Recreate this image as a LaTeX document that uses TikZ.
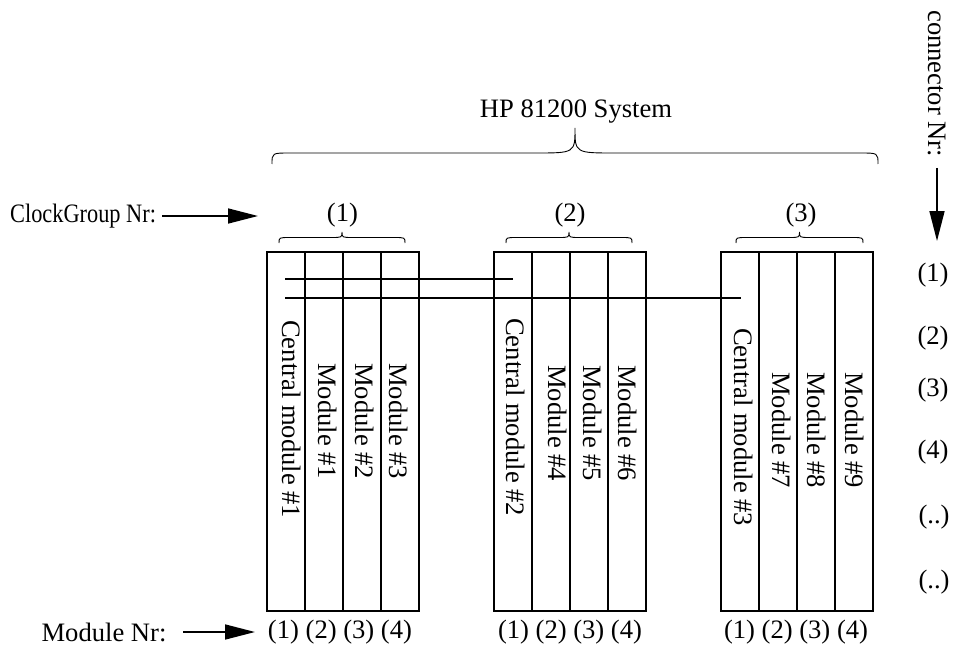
\documentclass[tikz,border=0pt]{standalone}
\usepackage{fontspec}
\setmainfont{Liberation Serif}
\usetikzlibrary{arrows.meta}
\newcommand\smallbrace[4]{% x1, x2, ybottom, height
  \draw[brc] (#1,#3) .. controls (#1,#3-#4/2) .. (#1+#4,#3-#4/2)
    -- ({(#1+#2)/2-#4},#3-#4/2) .. controls ({(#1+#2)/2},#3-#4/2) .. ({(#1+#2)/2},#3-#4)
    .. controls ({(#1+#2)/2},#3-#4/2) .. ({(#1+#2)/2+#4},#3-#4/2)
    -- (#2-#4,#3-#4/2) .. controls (#2,#3-#4/2) .. (#2,#3);}
\begin{document}
\begin{tikzpicture}[x=1pt,y=-1pt,
  lbl/.style={font=\fontsize{26.6}{30}\selectfont, inner sep=0pt},
  vlbl/.style={lbl, rotate=-90, anchor=west},
  col/.style={draw, line width=1.8pt, minimum width=38pt, minimum height=359pt, inner sep=0pt},
  wire/.style={line width=1.8pt},
  brc/.style={line width=0.9pt},
  bigarrow/.style={line width=1.6pt, -{Triangle[length=30pt,width=15pt]}}]
\useasboundingbox (0,0) rectangle (955,647);

% columns
\foreach \g/\L in {1/267, 2/494, 3/721}{
  \foreach \c in {1,...,4}{
    \node[col] (g\g c\c) at ({\L+19+38*(\c-1)},431.5) {};
  }
}

% texts in columns
\node[vlbl] (cm1) at (292,320) {Central module \#1};
\node[vlbl] (m1) at (328,363) {Module \#1};
\node[vlbl] (m2) at (365,363) {Module \#2};
\node[vlbl] (m3) at (399,363) {Module \#3};
\node[vlbl] (cm2) at (516,318) {Central module \#2};
\node[vlbl] (m4) at (558,365) {Module \#4};
\node[vlbl] (m5) at (593,365) {Module \#5};
\node[vlbl] (m6) at (628,365) {Module \#6};
\node[vlbl] (cm3) at (744,328) {Central module \#3};
\node[vlbl] (m7) at (782,372) {Module \#7};
\node[vlbl] (m8) at (817,372) {Module \#8};
\node[vlbl] (m9) at (855,372) {Module \#9};

% connection lines
\coordinate (w1a) at (285,279);
\coordinate (w1b) at (513,279);
\coordinate (w2a) at (285,298);
\coordinate (w2b) at (741,298);
\draw[wire] (w1a) -- (w1b);
\draw[wire] (w2a) -- (w2b);

% module numbers
\node[lbl] (mn1) at (340,632) {(1) (2) (3) (4)};
\node[lbl] (mn2) at (570,632) {(1) (2) (3) (4)};
\node[lbl] (mn3) at (796,632) {(1) (2) (3) (4)};

% clock group labels and braces
\node[lbl] (cg1) at (342.5,215) {(1)};
\node[lbl] (cg2) at (570,215) {(2)};
\node[lbl] (cg3) at (801,215) {(3)};
\smallbrace{279}{405}{243}{11}
\smallbrace{506}{632}{243}{11}
\smallbrace{736}{863}{243}{11}

% system brace
\node[lbl] (sys) at (576,112) {HP 81200 System};
\draw[brc] (272,164) .. controls (272,153) .. (290,153)
  -- (535,153) .. controls (575,153) .. (575,128)
  .. controls (575,153) .. (615,153)
  -- (860,153) .. controls (878,153) .. (878,164);

% left labels
\node[lbl, anchor=west, xscale=0.84] (cgn) at (10,216) {ClockGroup Nr:};
\coordinate (cga) at (162,216);
\coordinate (cgb) at (258,216);
\draw[bigarrow] (cga) -- (cgb);

\node[lbl] (mnn) at (104,632) {Module Nr:};
\coordinate (mna) at (183,632);
\coordinate (mnb) at (255,632);
\draw[bigarrow] (mna) -- (mnb);

% connector labels
\node[vlbl, anchor=west] (cnn) at (937,10) {connector Nr:};
\coordinate (cna) at (937,168);
\coordinate (cnb) at (937,241);
\draw[bigarrow] (cna) -- (cnb);

\node[lbl] (k1) at (933,275) {(1)};
\node[lbl] (k2) at (933,338) {(2)};
\node[lbl] (k3) at (933,390) {(3)};
\node[lbl] (k4) at (933,452) {(4)};
\node[lbl] (k5) at (934,517) {(..)};
\node[lbl] (k6) at (934,582) {(..)};
\end{tikzpicture}
\end{document}
